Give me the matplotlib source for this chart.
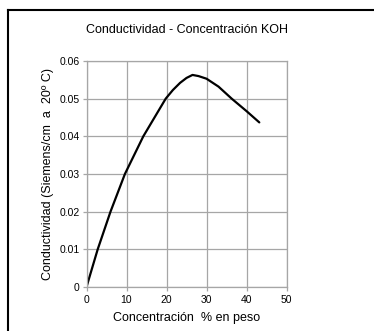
import matplotlib
matplotlib.use('Agg')
import matplotlib.pyplot as plt
from matplotlib.lines import Line2D

matplotlib.rcParams['font.family'] = ['Liberation Sans', 'DejaVu Sans']

# datos
concentracion = [0, 2.8, 6.0, 9.6, 14.2, 19.8, 21.6, 23.4, 25.0, 26.5, 28, 30, 33, 36.3, 40, 43.2]
conductividad = [0, 0.0100, 0.0200, 0.0300, 0.0400, 0.0500, 0.0523, 0.0542, 0.0555, 0.0563,
                 0.0560, 0.0553, 0.0532, 0.0500, 0.0467, 0.0437]
xticks = [0, 10, 20, 30, 40, 50]
yticks = [0, 0.01, 0.02, 0.03, 0.04, 0.05, 0.06]
yticklabels = ['0', '0.01', '0.02', '0.03', '0.04', '0.05', '0.06']

W, H = 374, 331
fig = plt.figure(figsize=(W / 100, H / 100), dpi=100)
ax = fig.add_axes([86.5 / W, (H - 287) / H, 200 / W, 226 / H])

gris = '#a6a6a6'
ax.plot(concentracion, conductividad, color='black', linewidth=1.6,
        solid_joinstyle='round', solid_capstyle='round')
ax.set_xlim(0, 50)
ax.set_ylim(0, 0.06)
ax.set_xticks(xticks)
ax.set_xticklabels([str(t) for t in xticks])
ax.set_yticks(yticks)
ax.set_yticklabels(yticklabels)
ax.grid(True, color=gris, linewidth=0.9)
for s in ax.spines.values():
    s.set_color(gris)
    s.set_linewidth(0.9)
ax.tick_params(colors=gris, length=3, width=0.9, labelcolor='black', labelsize=7.5, pad=2)
ax.tick_params(axis='x', pad=3)

ax.set_title('Conductividad - Concentración KOH', fontsize=9, pad=20)
ax.set_xlabel('Concentración  % en peso', fontsize=9, labelpad=5)
ax.set_ylabel('Conductividad (Siemens/cm  a  20º C)', fontsize=9, labelpad=4)

# marco negro (esquina superior izquierda)
def px(x, y):
    return x / W, 1 - y / H
fig.add_artist(Line2D([px(8, 10)[0], px(8, 331)[0]], [px(8, 10)[1], px(8, 331)[1]], color='black', linewidth=1.5))
fig.add_artist(Line2D([px(8, 10)[0], px(374, 10)[0]], [px(8, 10)[1], px(374, 10)[1]], color='black', linewidth=1.5))

fig.savefig('out.png', dpi=100)
